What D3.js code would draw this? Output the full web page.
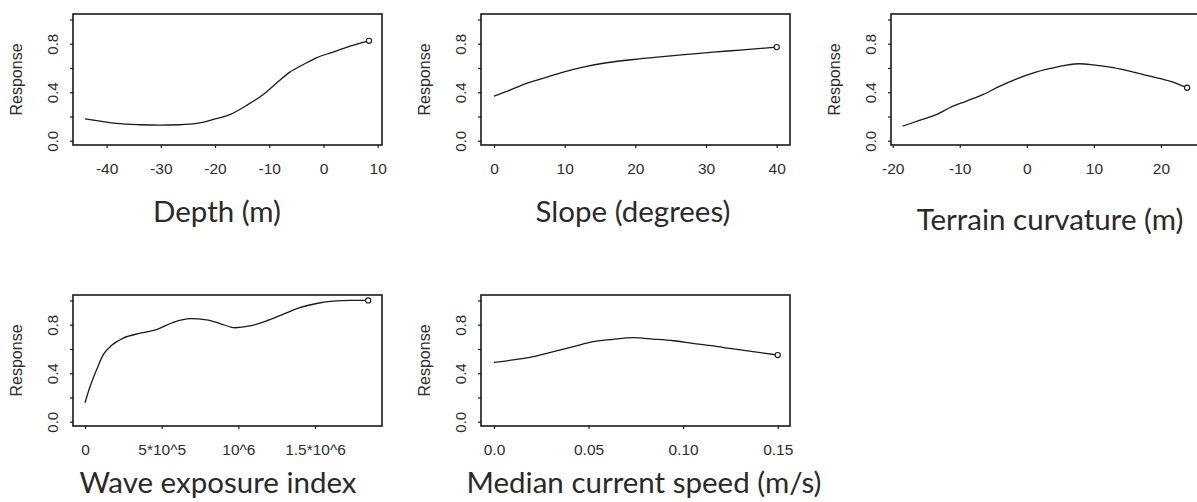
<!DOCTYPE html>
<html>
<head>
<meta charset="utf-8">
<script src="https://cdn.jsdelivr.net/npm/d3@7"></script>
<style>
  html, body { margin: 0; padding: 0; background: #fff; }
  svg { display: block; }
</style>
</head>
<body>
<svg id="chart" width="1197" height="502"></svg>
<script>
// ---------------- DATA ----------------
const responseTicks = [0, 0.2, 0.4, 0.6, 0.8, 1.0];
const responseLabels = ["0.0", "", "0.4", "", "0.8", ""];

const depthX = [-44.0, -41.2, -38.2, -33.8, -30.2, -26.5, -23.4, -20.3, -17.2, -14.2, -11.1, -8.6, -6.2, -3.7, -1.3, 1.8, 4.9, 8.4];
const depthY = [0.181, 0.162, 0.143, 0.132, 0.129, 0.132, 0.143, 0.176, 0.217, 0.291, 0.382, 0.478, 0.566, 0.629, 0.684, 0.731, 0.780, 0.824];
const depthTicks = [-40, -30, -20, -10, 0, 10];
const depthTickLabels = ["-40", "-30", "-20", "-10", "0", "10"];

const slopeX = [0, 2.26, 4.6, 7.0, 9.8, 12.6, 15.9, 19.7, 23.5, 27.3, 31.0, 34.8, 40];
const slopeY = [0.368, 0.418, 0.473, 0.516, 0.566, 0.607, 0.643, 0.670, 0.692, 0.712, 0.731, 0.747, 0.772];
const slopeTicks = [0, 10, 20, 30, 40];
const slopeTickLabels = ["0", "10", "20", "30", "40"];

const curvX = [-18.5, -15.9, -13.4, -11.5, -9.0, -6.5, -4.0, -1.5, 1.0, 3.5, 5.9, 7.9, 9.9, 12.9, 15.9, 18.8, 21.3, 23.9];
const curvY = [0.121, 0.170, 0.217, 0.272, 0.327, 0.382, 0.451, 0.511, 0.560, 0.596, 0.624, 0.635, 0.626, 0.602, 0.566, 0.527, 0.492, 0.437];
const curvTicks = [-20, -10, 0, 10, 20];
const curvTickLabels = ["-20", "-10", "0", "10", "20"];

const waveX = [0, 33000, 76000, 120000, 174000, 250000, 360000, 467000, 576000, 685000, 793000, 880000, 978000, 1076000, 1180000, 1290000, 1400000, 1510000, 1620000, 1730000, 1847000];
const waveY = [0.157, 0.29, 0.43, 0.555, 0.63, 0.69, 0.73, 0.76, 0.82, 0.85, 0.84, 0.81, 0.775, 0.79, 0.83, 0.885, 0.94, 0.975, 0.995, 1.0, 1.0];
const waveTicks = [0, 500000, 1000000, 1500000];
const waveTickLabels = ["0", "5*10^5", "10^6", "1.5*10^6"];

const currentX = [0.0, 0.0102, 0.0208, 0.0314, 0.042, 0.0525, 0.063, 0.0737, 0.084, 0.095, 0.105, 0.116, 0.1265, 0.137, 0.15];
const currentY = [0.49, 0.51, 0.537, 0.578, 0.619, 0.66, 0.68, 0.693, 0.682, 0.668, 0.647, 0.625, 0.60, 0.578, 0.55];
const currentTicks = [0, 0.05, 0.10, 0.15];
const currentTickLabels = ["0.0", "0.05", "0.10", "0.15"];

const titles = ["Depth (m)", "Slope (degrees)", "Terrain curvature (m)", "Wave exposure index", "Median current speed (m/s)"];
const yLabel = "Response";

// ---------------- LAYOUT ----------------
const boxW = 309, boxH = 131;
const panels = [
  { xs: depthX, ys: depthY, ticks: depthTicks, labels: depthTickLabels, title: titles[0],
    left: 73, top: 14, domain: [-46.2, 10.8], titleX: 217, titleY: 222 },
  { xs: slopeX, ys: slopeY, ticks: slopeTicks, labels: slopeTickLabels, title: titles[1],
    left: 481, top: 14, domain: [-1.84, 41.88], titleX: 633, titleY: 222 },
  { xs: curvX, ys: curvY, ticks: curvTicks, labels: curvTickLabels, title: titles[2],
    left: 891, top: 14, domain: [-20.25, 25.82], titleX: 1050, titleY: 230 },
  { xs: waveX, ys: waveY, ticks: waveTicks, labels: waveTickLabels, title: titles[3],
    left: 73, top: 295, domain: [-78300, 1937000], titleX: 218, titleY: 493 },
  { xs: currentX, ys: currentY, ticks: currentTicks, labels: currentTickLabels, title: titles[4],
    left: 481, top: 295, domain: [-0.00687, 0.1565], titleX: 644, titleY: 493 }
];

const svg = d3.select("#chart");
const ink = "#1a1a1a";
const tickFont = "'Liberation Sans', Arial, sans-serif";
const titleFont = "Lato, 'Open Sans', sans-serif";

panels.forEach(p => {
  const g = svg.append("g").attr("transform", `translate(${p.left},${p.top})`);
  const x = d3.scaleLinear().domain(p.domain).range([0, boxW]);
  const y = d3.scaleLinear().domain([-0.035, 1.045]).range([boxH, 0]);

  // x axis
  const xAxis = d3.axisBottom(x).tickValues(p.ticks)
    .tickFormat((d, i) => p.labels[i]).tickSize(3).tickSizeOuter(0).tickPadding(15);
  const xg = g.append("g").attr("transform", `translate(0,${boxH})`).call(xAxis);
  xg.select(".domain").remove();
  xg.selectAll(".tick line").attr("stroke", ink).attr("stroke-width", 1.2);
  xg.selectAll(".tick text").attr("fill", "#2e2e2e")
    .style("font-family", tickFont).style("font-size", "15.5px");

  // y axis
  const yAxis = d3.axisLeft(y).tickValues(responseTicks)
    .tickFormat((d, i) => responseLabels[i]).tickSize(3).tickSizeOuter(0).tickPadding(0);
  const yg = g.append("g").call(yAxis);
  yg.select(".domain").remove();
  yg.selectAll(".tick line").attr("stroke", ink).attr("stroke-width", 1.2);
  yg.selectAll(".tick text")
    .attr("x", 0).attr("dy", null).attr("text-anchor", "middle")
    .attr("transform", "translate(-15,0) rotate(-90)")
    .attr("fill", "#2e2e2e")
    .style("font-family", tickFont).style("font-size", "15px");

  // box
  g.append("rect").attr("x", 0).attr("y", 0).attr("width", boxW).attr("height", boxH)
    .attr("fill", "none").attr("stroke", ink).attr("stroke-width", 1.6);

  // response label
  g.append("text")
    .attr("transform", `translate(-51,${boxH / 2}) rotate(-90)`)
    .attr("text-anchor", "middle")
    .attr("fill", "#2e2e2e")
    .style("font-family", tickFont).style("font-size", "16px")
    .text(yLabel);

  // curve
  const pts = p.xs.map((v, i) => [v, p.ys[i]]);
  const line = d3.line().x(d => x(d[0])).y(d => y(d[1])).curve(d3.curveMonotoneX);
  g.append("path").datum(pts).attr("d", line)
    .attr("fill", "none").attr("stroke", ink).attr("stroke-width", 1.3);

  // end marker
  const last = pts[pts.length - 1];
  g.append("circle").attr("cx", x(last[0])).attr("cy", y(last[1])).attr("r", 2.6)
    .attr("fill", "#fff").attr("stroke", ink).attr("stroke-width", 1.1);

  // title
  svg.append("text")
    .attr("x", p.titleX).attr("y", p.titleY)
    .attr("text-anchor", "middle")
    .attr("fill", "#2a2a2a")
    .style("font-family", titleFont).style("font-size", "29.5px")
    .text(p.title);
});
</script>
</body>
</html>
